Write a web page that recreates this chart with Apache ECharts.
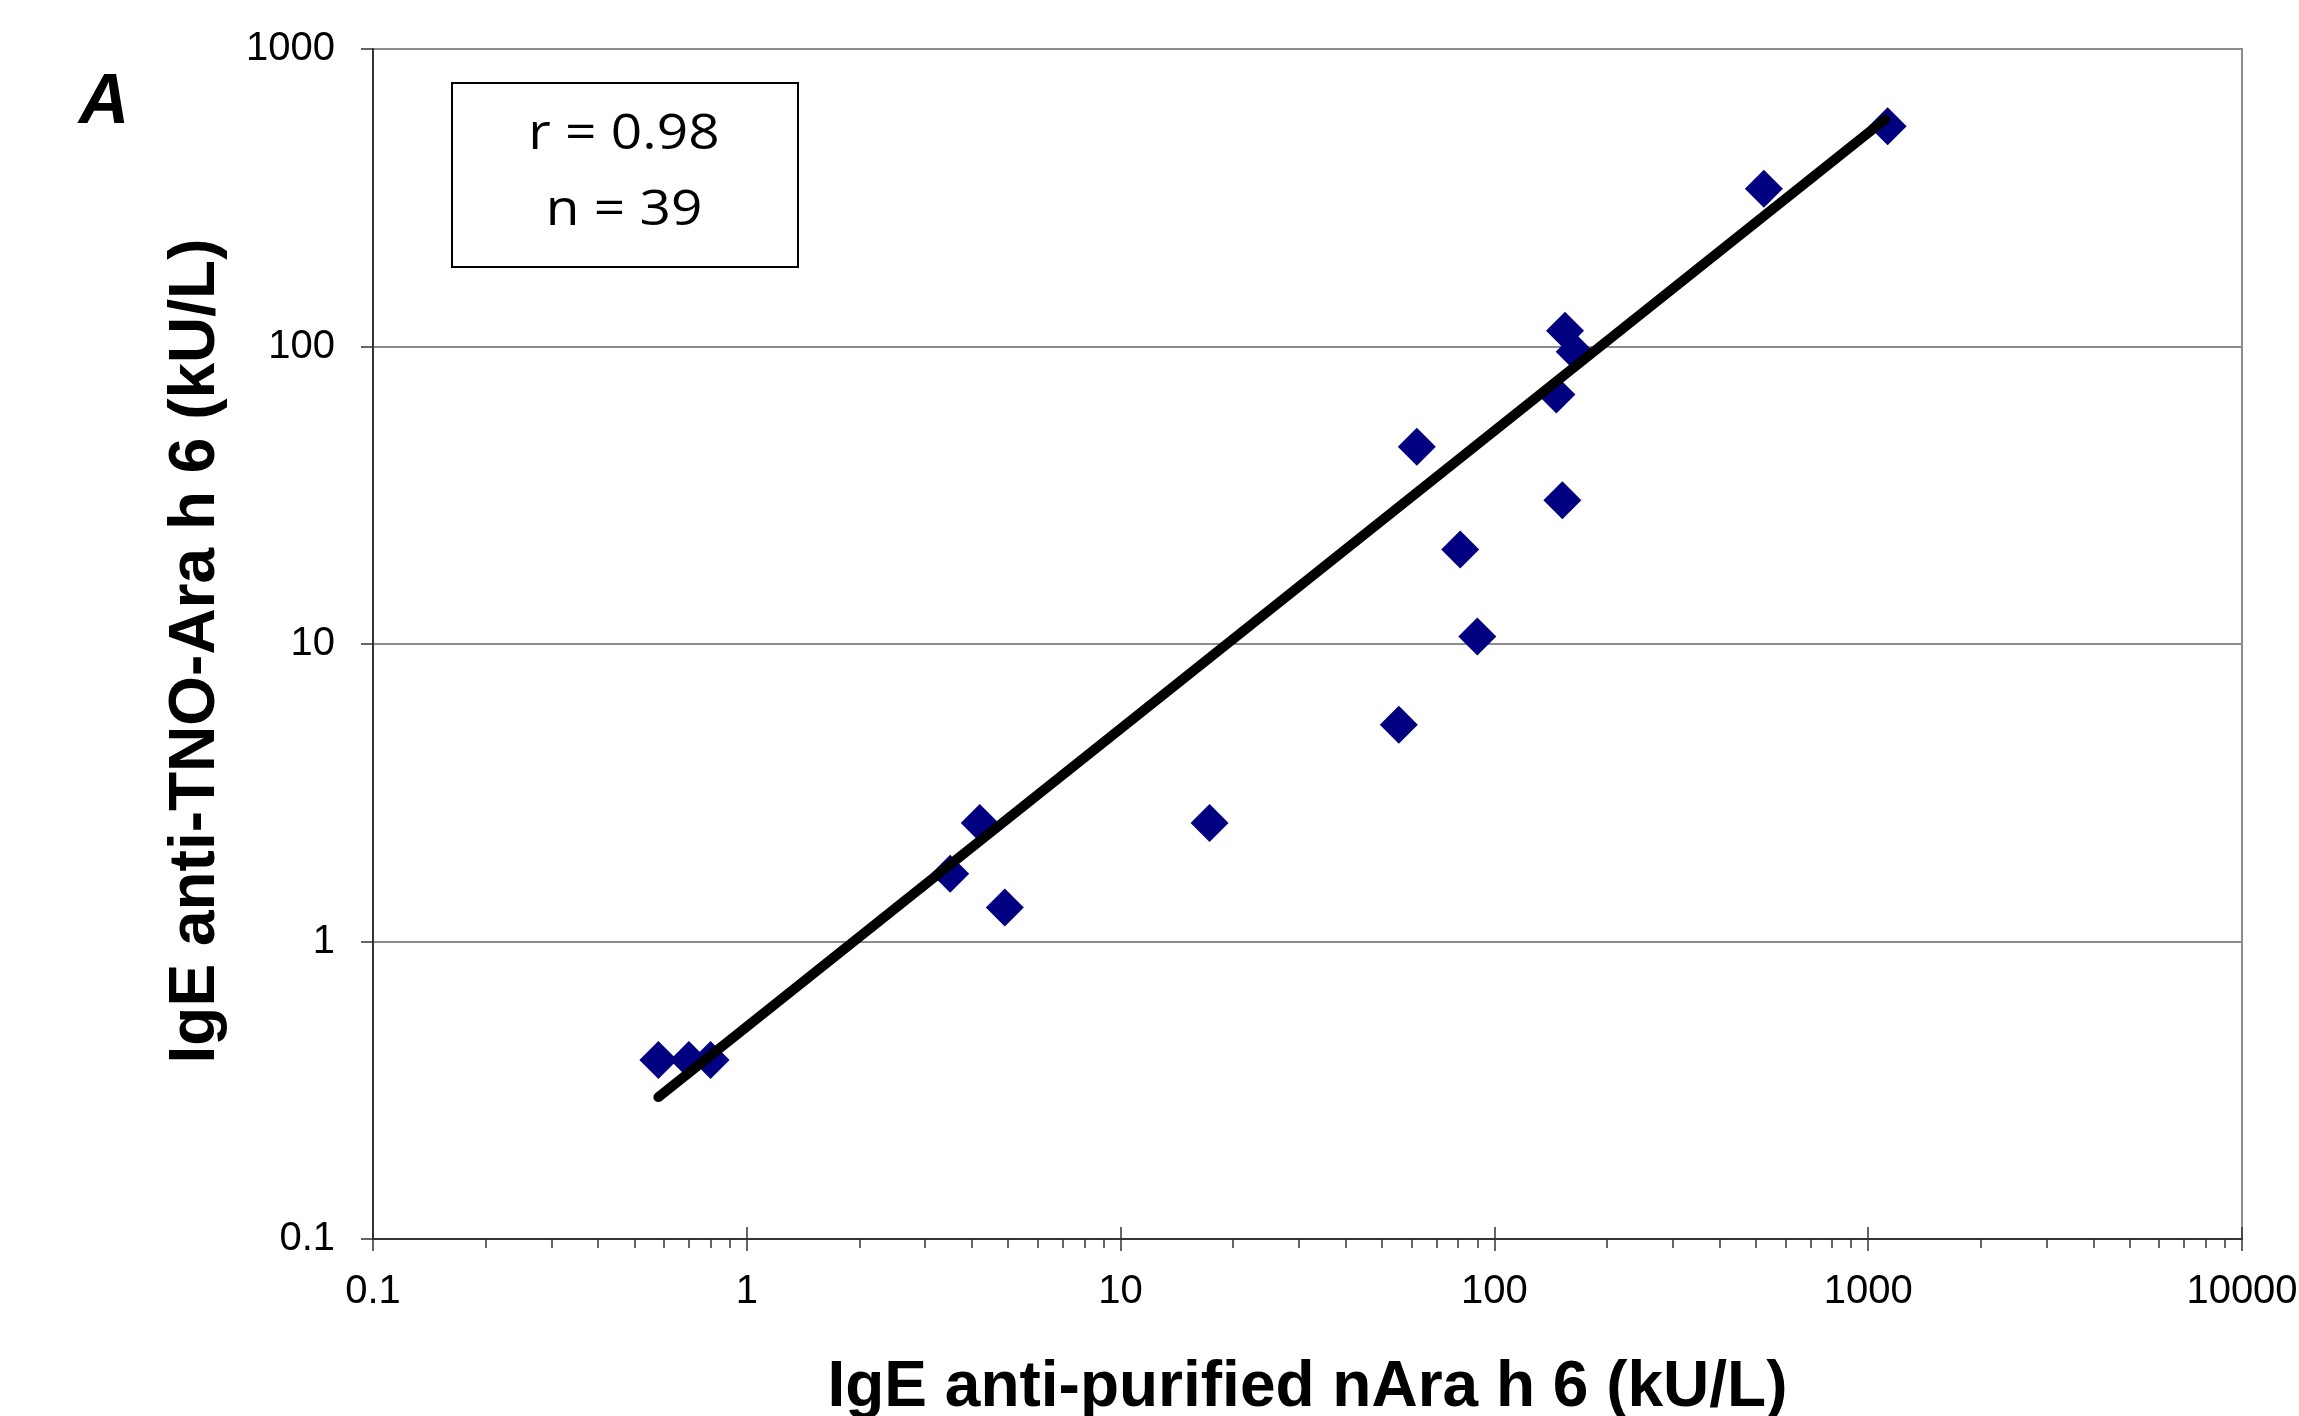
<!DOCTYPE html>
<html>
<head>
<meta charset="utf-8">
<script src="https://cdn.jsdelivr.net/npm/echarts@6/dist/echarts.min.js"></script>
<style>
html,body{margin:0;padding:0;background:#fff;}
#chart{width:2299px;height:1416px;}
</style>
</head>
<body>
<div id="chart"></div>
<script>
// Data
const nAraH6 = [0.58, 0.70, 0.80, 3.5, 4.2, 4.9, 17.3, 55.5, 62, 81, 90, 146.5, 152, 154.5, 164, 526, 1127];
const tnoAraH6 = [0.40, 0.40, 0.40, 1.69, 2.5, 1.30, 2.5, 5.35, 46, 20.8, 10.6, 69, 30.4, 113, 96, 339, 550];
const fitX = [0.58, 1110];
const fitY = [0.30, 580];
const xTicks = [0.1, 1, 10, 100, 1000, 10000];
const yTicks = [0.1, 1, 10, 100, 1000];
const xTitle = 'IgE anti-purified nAra h 6 (kU/L)';
const yTitle = 'IgE anti-TNO-Ara h 6 (kU/L)';
const statLines = ['r = 0.98', 'n = 39'];
const panelLabel = 'A';

const points = nAraH6.map((x, i) => [x, tnoAraH6[i]]);
const fitLine = fitX.map((x, i) => [x, fitY[i]]);

const chart = echarts.init(document.getElementById('chart'), null, {renderer: 'canvas'});
const axisColor = '#333333';
const labelFont = {fontFamily: 'Liberation Sans, Arial, sans-serif', fontSize: 40, color: '#000'};

const option = {
  animation: false,
  backgroundColor: '#ffffff',
  grid: {
    left: 373, right: 57, top: 49, bottom: 177,
    containLabel: false, outerBoundsMode: 'none',
    show: true, borderColor: '#8c8c8c', borderWidth: 2, backgroundColor: 'transparent'
  },
  xAxis: [
    {
      type: 'log', logBase: 10, min: xTicks[0], max: xTicks[xTicks.length - 1],
      position: 'bottom',
      name: xTitle, nameLocation: 'middle', nameGap: 117,
      nameTextStyle: {fontFamily: 'Liberation Sans, Arial, sans-serif', fontSize: 64, fontWeight: 'bold', color: '#000'},
      axisLine: {show: true, onZero: false, lineStyle: {color: axisColor, width: 2}},
      axisTick: {show: true, inside: false, length: 12, lineStyle: {color: axisColor, width: 1.5}},
      minorTick: {show: true, splitNumber: 9, length: 9, lineStyle: {color: axisColor, width: 1.5}},
      axisLabel: Object.assign({margin: 33, formatter: v => String(v)}, labelFont),
      splitLine: {show: false},
      minorSplitLine: {show: false}
    },
    {
      type: 'log', logBase: 10, min: xTicks[0], max: xTicks[xTicks.length - 1],
      position: 'bottom',
      axisLine: {show: false},
      axisTick: {show: true, inside: true, length: 12, lineStyle: {color: axisColor, width: 1.5}},
      axisLabel: {show: false},
      splitLine: {show: false}
    }
  ],
  yAxis: {
    type: 'log', logBase: 10, min: yTicks[0], max: yTicks[yTicks.length - 1],
    name: yTitle, nameLocation: 'middle', nameGap: 145,
    nameTextStyle: {fontFamily: 'Liberation Sans, Arial, sans-serif', fontSize: 64, fontWeight: 'bold', color: '#000', padding: [0, 14, 0, 0]},
    axisLine: {show: true, onZero: false, lineStyle: {color: axisColor, width: 2}},
    axisTick: {show: true, inside: false, length: 12, lineStyle: {color: axisColor, width: 1.5}},
    axisLabel: Object.assign({margin: 38, formatter: v => String(v)}, labelFont),
    splitLine: {show: true, lineStyle: {color: '#8c8c8c', width: 2}}
  },
  series: [
    {
      type: 'scatter',
      xAxisIndex: 0,
      data: points,
      symbol: 'diamond',
      symbolSize: 38,
      itemStyle: {color: '#000080', opacity: 1},
      z: 2
    },
    {
      type: 'line',
      xAxisIndex: 0,
      data: fitLine,
      showSymbol: false,
      symbol: 'none',
      lineStyle: {color: '#000', width: 10, cap: 'round'},
      z: 3
    }
  ],
  graphic: [
    {
      type: 'text', x: 104, y: 104,
      style: {text: panelLabel, font: 'italic bold 70px "Liberation Sans", Arial, sans-serif', fill: '#000', textAlign: 'center', textVerticalAlign: 'middle'}
    },
    {
      type: 'rect', shape: {x: 452, y: 83, width: 346, height: 184},
      style: {fill: '#fff', stroke: '#000', lineWidth: 2}, z: 10
    },
    {
      type: 'text', x: 624, y: 135, scaleX: 1.1, z: 11,
      style: {text: statLines[0], font: '500 50px "Open Sans", sans-serif', fill: '#000', textAlign: 'center', textVerticalAlign: 'middle'}
    },
    {
      type: 'text', x: 624, y: 211, scaleX: 1.1, z: 11,
      style: {text: statLines[1], font: '500 50px "Open Sans", sans-serif', fill: '#000', textAlign: 'center', textVerticalAlign: 'middle'}
    }
  ]
};
chart.setOption(option);
</script>
</body>
</html>
